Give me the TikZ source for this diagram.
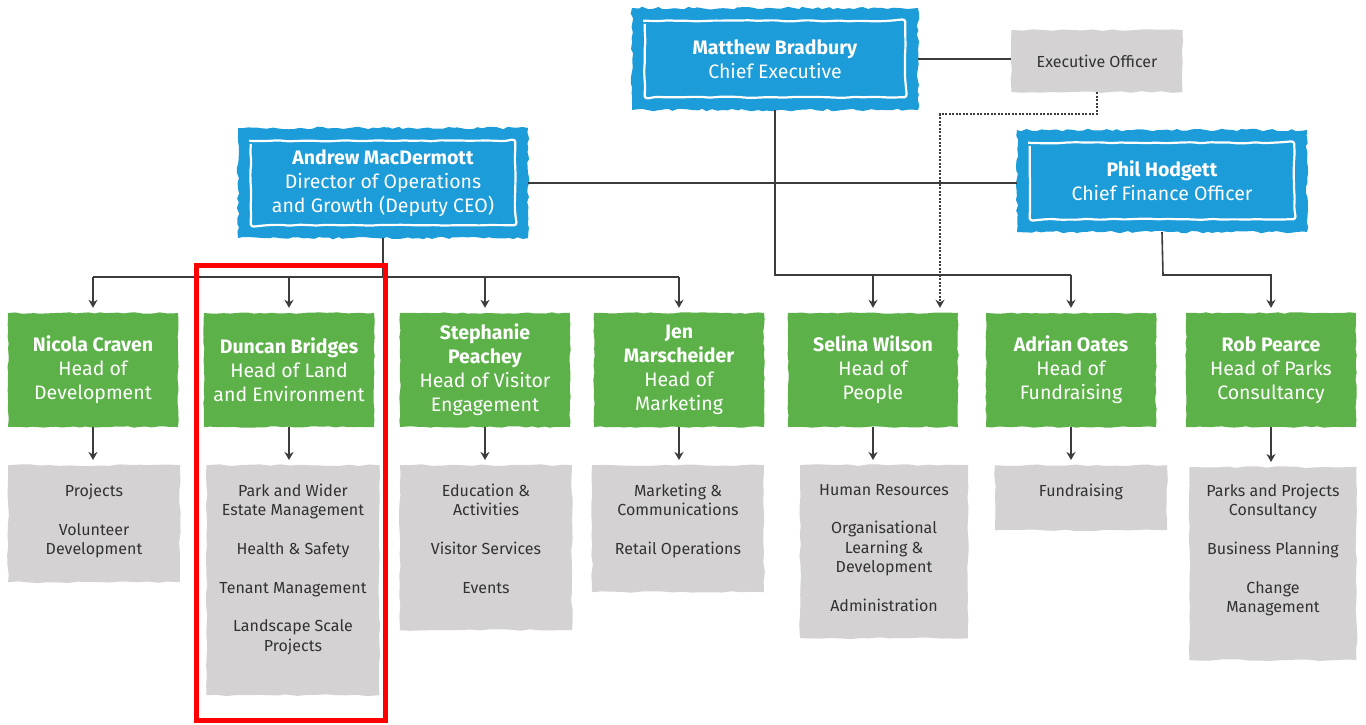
\documentclass[tikz,border=0pt]{standalone}
\usepackage{fontspec}
\setmainfont{Fira Sans}
\usetikzlibrary{arrows.meta,decorations.pathmorphing,calc}
\definecolor{tblue}{RGB}{28,156,216}
\definecolor{tgreen}{RGB}{92,178,72}
\definecolor{tgrey}{RGB}{212,210,211}
\definecolor{tline}{RGB}{60,60,60}
\definecolor{ttext}{RGB}{50,50,50}
\begin{document}
\pgfmathsetseed{12}
\begin{tikzpicture}[x=1pt,y=-1pt,
  bluebox/.style={fill=tblue, text=white, align=center, inner sep=0pt,
    decorate, decoration={random steps,segment length=5pt,amplitude=1.3pt},
    font=\fontsize{19.5}{24}\selectfont},
  innerframe/.style={white, line width=2.2pt, rounded corners=3pt,
    decorate, decoration={random steps,segment length=9pt,amplitude=0.6pt}},
  greenbox/.style={fill=tgreen, text=white, align=center, inner sep=0pt,
    minimum width=170pt, minimum height=114pt,
    decorate, decoration={random steps,segment length=6pt,amplitude=0.7pt},
    font=\fontsize{19.5}{24}\selectfont},
  greybox/.style={fill=tgrey, inner sep=0pt, anchor=north,
    decorate, decoration={random steps,segment length=10pt,amplitude=0.9pt}},
  greytext/.style={text=ttext, align=center, inner sep=0pt, anchor=north,
    font=\fontsize{16}{19.3}\selectfont},
  conn/.style={draw=tline, line width=1.6pt},
  arr/.style={conn, -{Stealth[length=8pt,width=9pt,inset=2.5pt]}, shorten >=5pt},
  dotarr/.style={arr, dash pattern=on 2pt off 1.5pt, line width=1.4pt}
]
\useasboundingbox[fill=white] (0,0) rectangle (1366,724);

% top level
\node[bluebox, minimum width=286pt, minimum height=102pt] (ceo) at (775,59)
  {\textbf{Matthew Bradbury}\\Chief Executive};
\draw[innerframe] ([shift={(13pt,-13pt)}]ceo.north west) rectangle ([shift={(-13pt,13pt)}]ceo.south east);

\node[greybox, anchor=center, minimum width=171pt, minimum height=62pt,
  text=ttext, font=\fontsize{16}{19}\selectfont] (exec) at (1097,61) {Executive Officer};

\node[bluebox, minimum width=290pt, minimum height=110pt] (andrew) at (383,183)
  {\textbf{Andrew MacDermott}\\Director of Operations\\and Growth (Deputy CEO)};
\draw[innerframe] ([shift={(13pt,-13pt)}]andrew.north west) rectangle ([shift={(-13pt,13pt)}]andrew.south east);

\node[bluebox, minimum width=290pt, minimum height=102pt] (phil) at (1162,181)
  {\textbf{Phil Hodgett}\\Chief Finance Officer};
\draw[innerframe] ([shift={(13pt,-13pt)}]phil.north west) rectangle ([shift={(-13pt,13pt)}]phil.south east);

% heads
\node[greenbox] (nicola) at (93,370) {\textbf{Nicola Craven}\\Head of\\Development};
\node[greenbox] (duncan) at (289,370) {\textbf{Duncan Bridges}\\Head of Land\\and Environment};
\node[greenbox] (steph) at (485,370) {\textbf{Stephanie}\\\textbf{Peachey}\\Head of Visitor\\Engagement};
\node[greenbox] (jen) at (679,370) {\textbf{Jen}\\\textbf{Marscheider}\\Head of\\Marketing};
\node[greenbox] (selina) at (873,370) {\textbf{Selina Wilson}\\Head of\\People};
\node[greenbox] (adrian) at (1071,370) {\textbf{Adrian Oates}\\Head of\\Fundraising};
\node[greenbox] (rob) at (1271,370) {\textbf{Rob Pearce}\\Head of Parks\\Consultancy};

% teams
\node[greybox, minimum width=172pt, minimum height=117pt] (g1) at (94,465) {};
\node[greytext] (g1t) at ([yshift=-19pt]g1.north) {Projects\\[19.3pt]Volunteer\\Development};
\node[greybox, minimum width=173pt, minimum height=230pt] (g2) at (293,465) {};
\node[greytext] (g2t) at ([yshift=-19pt]g2.north) {Park and Wider\\Estate Management\\[19.3pt]Health \& Safety\\[19.3pt]Tenant Management\\[19.3pt]Landscape Scale\\Projects};
\node[greybox, minimum width=172pt, minimum height=165pt] (g3) at (486,465) {};
\node[greytext] (g3t) at ([yshift=-19pt]g3.north) {Education \&\\Activities\\[19.3pt]Visitor Services\\[19.3pt]Events};
\node[greybox, minimum width=172pt, minimum height=127pt] (g4) at (678,465) {};
\node[greytext] (g4t) at ([yshift=-19pt]g4.north) {Marketing \&\\Communications\\[19.3pt]Retail Operations};
\node[greybox, minimum width=168pt, minimum height=173pt] (g5) at (884,465) {};
\node[greytext] (g5t) at ([yshift=-19pt]g5.north) {Human Resources\\[19.3pt]Organisational\\Learning \&\\Development\\[19.3pt]Administration};
\node[greybox, minimum width=172pt, minimum height=65pt] (g6) at (1081,465) {};
\node[greytext] (g6t) at ([yshift=-19pt]g6.north) {Fundraising};
\node[greybox, minimum width=167pt, minimum height=193pt] (g7) at (1273,467) {};
\node[greytext] (g7t) at ([yshift=-17pt]g7.north) {Parks and Projects\\Consultancy\\[19.3pt]Business Planning\\[19.3pt]Change\\Management};

% connectors
\coordinate (busL) at (383,277);
\coordinate (busR) at (775,275);
\coordinate (busP) at (1163,275);
\coordinate (dotc) at (940,114);

\draw[conn] (ceo.east) -- (ceo.east -| exec.west);
\draw[conn] (andrew.east) -- (andrew.east -| phil.west);

\draw[conn] (andrew.south) -- (busL);
\draw[conn] (nicola.north |- busL) -- (jen.north |- busL);
\foreach \n in {nicola,duncan,steph,jen}
  \draw[arr] (\n.north |- busL) -- (\n.north);

\draw[conn] (ceo.south) -- (busR) -- (adrian.north |- busR);
\draw[arr] (selina.north |- busR) -- (selina.north);
\draw[arr] (adrian.north |- busR) -- (adrian.north);

\draw[dotarr] (exec.south) |- (dotc) -- (dotc |- selina.north);

\draw[arr] (phil.south) -- (busP) -| (rob.north);

\foreach \n/\g in {nicola/g1,duncan/g2,steph/g3,jen/g4,selina/g5,adrian/g6,rob/g7}
  \draw[arr] (\n.south) -- (\n.south |- \g.north);

% highlight
\draw[red, line width=5pt] (196,265) rectangle (385,720);
\end{tikzpicture}
\end{document}
